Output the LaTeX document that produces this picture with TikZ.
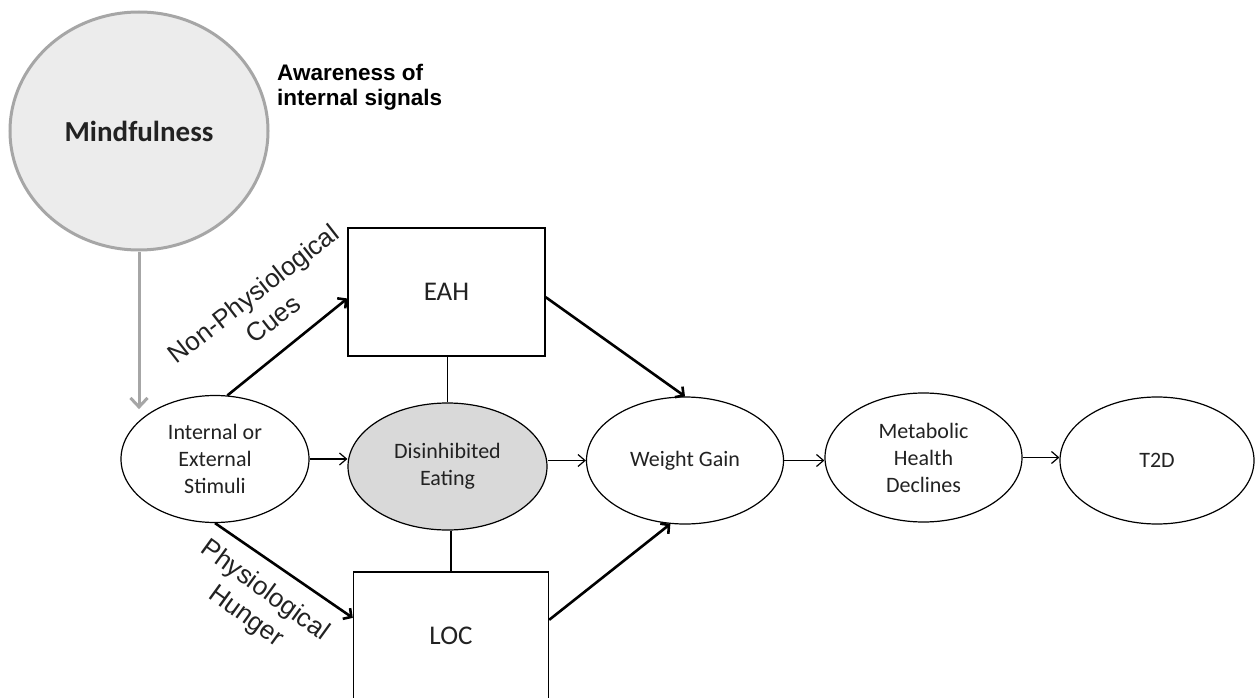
\documentclass[tikz,border=0pt]{standalone}
\usepackage{fontspec}
\setmainfont{Carlito}
\newfontfamily\arialf{Liberation Sans}
\usetikzlibrary{arrows.meta,calc,shapes.geometric}
\definecolor{mindfill}{HTML}{ECECEC}
\definecolor{minddraw}{HTML}{A6A6A6}
\definecolor{disfill}{HTML}{D9D9D9}
\definecolor{inkc}{HTML}{222222}
\tikzset{
  oval/.style={ellipse, draw=black, line width=1.2pt, inner sep=0pt, align=center,
    text=inkc, font=\fontsize{22}{27}\selectfont},
  boxnode/.style={rectangle, draw=black, line width=1.4pt, inner sep=0pt, align=center,
    text=inkc, font=\fontsize{27}{32}\selectfont, minimum width=196pt, minimum height=128pt},
  thinarrow/.style={line width=1.2pt, -{Straight Barb[length=7pt,width=12pt,line width=1.2pt]}},
  thickarrow/.style={line width=2.6pt, -{Straight Barb[length=6pt,width=13pt,line width=2.6pt]}},
  grayarrow/.style={draw=minddraw, line width=3pt, -{Straight Barb[length=9pt,width=17pt,line width=3pt]}},
  plainline/.style={line width=1.2pt},
  cuelabel/.style={font=\arialf\fontsize{26}{32}\selectfont, align=center, text=inkc, inner sep=0pt}
}
\begin{document}
\begin{tikzpicture}[x=1pt,y=-1pt]
\useasboundingbox (0,0) rectangle (1258,698);
\fill[white] (0,0) rectangle (1258,698);

% nodes
\node[ellipse, draw=minddraw, fill=mindfill, line width=3pt, minimum width=258pt, minimum height=238pt,
  inner sep=0pt, text=inkc, font=\bfseries\fontsize{29}{34}\selectfont] (mind) at (139,131) {Mindfulness};
\node[anchor=north west, inner sep=0pt, align=left, text=black,
  font=\arialf\bfseries\fontsize{22.5}{25}\selectfont] (aware) at (277,64) {Awareness of\\internal signals};

\node[oval, minimum width=188pt, minimum height=127pt] (stim) at (215,459) {Internal or\\External\\Stimuli};
\node[oval, fill=disfill, minimum width=199pt, minimum height=127pt] (dis) at (447.5,466.5) {Disinhibited\\Eating};
\node[oval, minimum width=197pt, minimum height=127pt] (wg) at (685,460.5) {Weight Gain};
\node[oval, minimum width=197pt, minimum height=129pt] (met) at (923.5,457.5) {Metabolic\\Health\\Declines};
\node[oval, minimum width=194pt, minimum height=127pt] (t2d) at (1157,460.5) {T2D};

\node[boxnode, minimum width=197pt] (eah) at (446.5,292) {EAH};
\node[boxnode, minimum width=195pt] (loc) at (451,636) {LOC};

% connectors
\draw[grayarrow] (mind.south) -- (mind.south |- stim.140);
\draw[thickarrow] (stim.79) -- ($(eah.north west)!0.55!(eah.south west)$);
\draw[thickarrow] (stim.south) -- ($(loc.north west)!0.36!(loc.south west)$);
\draw[thickarrow] ($(eah.north east)!0.54!(eah.south east)$) -- (wg.north);
\draw[thickarrow] ($(loc.north east)!0.375!(loc.south east)$) -- (wg.257);
\draw[plainline] (eah.south -| dis.north) -- (dis.north);
\draw[plainline] (dis.south -| loc.north) -- (loc.north);
\draw[thinarrow] (stim.east) -- (stim.east -| dis.west);
\draw[thinarrow] (wg.west -| dis.east) -- (wg.west);
\draw[thinarrow] (wg.east) -- (wg.east -| met.west);
\draw[thinarrow] (met.east) -- (met.east -| t2d.west);

% labels
\node[cuelabel, rotate=38] (nonphys) at (263,306) {Non-Physiological\\Cues};
\node[cuelabel, rotate=-36] (phys) at (255,604) {Physiological\\Hunger};
\end{tikzpicture}
\end{document}
